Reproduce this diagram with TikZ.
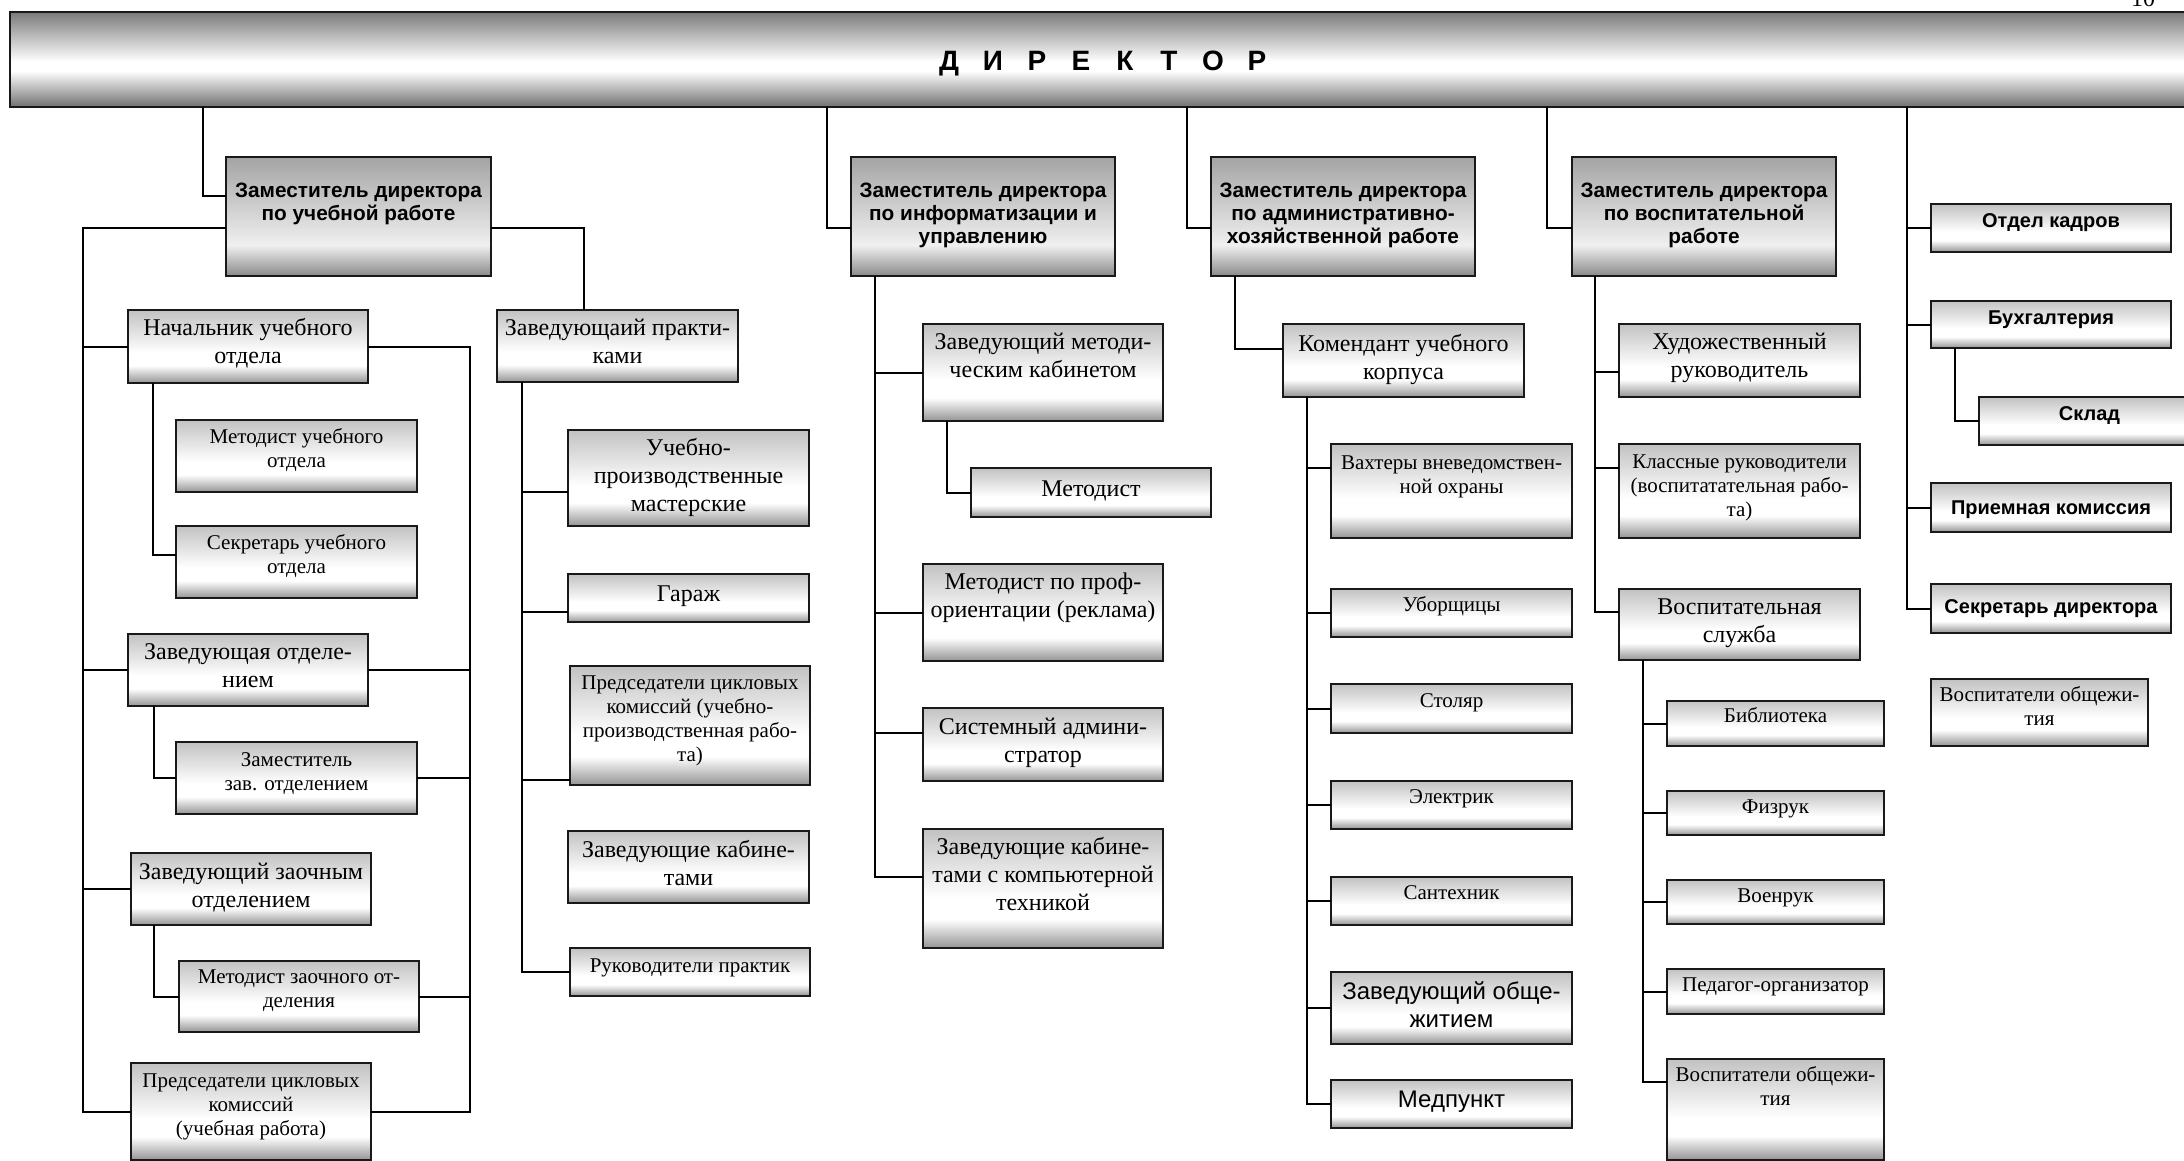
\documentclass[tikz,border=0pt]{standalone}
\usepackage{fontspec}
\setmainfont{Liberation Serif}
\setsansfont{Liberation Sans}
\usetikzlibrary{calc}
\colorlet{sbot}{black!42}
\colorlet{stop}{black!24}
\colorlet{dbot}{black!46}
\colorlet{dtop}{black!36}
\colorlet{rbot}{black!56}
\colorlet{rtop}{black!52}
\colorlet{lite}{white!94!black}
\pgfdeclareverticalshading{bxshade}{100bp}{color(0bp)=(sbot); color(25bp)=(sbot); color(37bp)=(white); color(46bp)=(white); color(75bp)=(stop); color(100bp)=(stop)}
\pgfdeclareverticalshading{dpshade}{100bp}{color(0bp)=(dbot); color(25bp)=(dbot); color(38bp)=(lite); color(75bp)=(dtop); color(100bp)=(dtop)}
\pgfdeclareverticalshading{barshade}{100bp}{color(0bp)=(rbot); color(25bp)=(rbot); color(44bp)=(white); color(49bp)=(white); color(75bp)=(rtop); color(100bp)=(rtop)}
\newcommand\fntL{\rmfamily\fontsize{12}{14}\selectfont}
\newcommand\fntS{\rmfamily\fontsize{10.5}{12}\selectfont}
\newcommand\fntB{\sffamily\bfseries\fontsize{10}{11.5}\selectfont}
\newcommand\fntD{\sffamily\bfseries\fontsize{10.4}{11.5}\selectfont}
\newcommand\fntA{\sffamily\fontsize{12}{14}\selectfont}
\newcommand\dltr[1]{\makebox[22pt][c]{#1}}
\tikzset{
  bx/.style={anchor=north west, draw=black!90, line width=1pt, inner sep=0pt, outer sep=0pt, shade, shading=bxshade},
  dp/.style={bx, shading=dpshade},
  bar/.style={bx, shading=barshade},
  tx/.style={inner sep=0pt, outer sep=0pt, anchor=base},
  ln/.style={line width=1pt, black}
}
% #1 style, #2 name, #3 x, #4 y, #5 w, #6 h, #7 baseline offset, #8 font, #9 text
\newcommand\obox[9][bx]{%
  \node[#1, minimum width=#5*0.5pt, minimum height=#6*0.5pt] (#2) at (#3,#4) {};
  \node[tx] (#2-t) at ($(#2.north)+(0,#7)$) {#8\begin{tabular}[t]{@{}c@{}}#9\end{tabular}};}
\begin{document}
\begin{tikzpicture}[x=0.5pt,y=-0.5pt]
\useasboundingbox (0,0) rectangle (2184,1161);
\clip (0,0) rectangle (2184,1161);
% director
\node[bar, minimum width=2190*0.5pt, minimum height=95*0.5pt] (dir) at (10,12) {};
\node[tx] (dir-t) at (1103,71) {\sffamily\bfseries\fontsize{14}{16}\selectfont\dltr{Д}\dltr{И}\dltr{Р}\dltr{Е}\dltr{К}\dltr{Т}\dltr{О}\dltr{Р}};
\node[tx] (pg) at (2143,7) {\fntL 10};
% deputies
\obox[dp]{dep1}{226}{157}{265}{119}{41}{\fntD}{Заместитель директора\\по учебной работе}
\obox[dp]{dep2}{851}{157}{264}{119}{41}{\fntD}{Заместитель директора\\по информатизации и\\управлению}
\obox[dp]{dep3}{1211}{157}{264}{119}{41}{\fntD}{Заместитель директора\\по административно-\\хозяйственной работе}
\obox[dp]{dep4}{1572}{157}{264}{119}{41}{\fntD}{Заместитель директора\\по воспитательной\\работе}
% column 1
\obox{nach}{128}{310}{240}{73}{25}{\fntL}{Начальник учебного\\отдела}
\obox{metuch}{176}{420}{241}{72}{23}{\fntS}{Методист учебного\\отдела}
\obox{secuch}{176}{526}{241}{72}{23}{\fntS}{Секретарь учебного\\отдела}
\obox{zavotd}{128}{634}{240}{72}{25}{\fntL}{Заведующая отделе-\\нием}
\obox{zamzav}{176}{742}{241}{72}{24}{\fntS}{Заместитель\\зав. отделением}
\obox{zavzaoch}{131}{853}{240}{72}{26}{\fntL}{Заведующий заочным\\отделением}
\obox{metzaoch}{179}{961}{240}{71}{22}{\fntS}{Методист заочного от-\\деления}
\obox{pred1}{131}{1063}{240}{97}{24}{\fntS}{Председатели цикловых\\комиссий\\(учебная работа)}
% column 2
\obox{zp}{497}{310}{241}{72}{25}{\fntL}{Заведующаий практи-\\ками}
\obox{ucheb}{568}{430}{241}{96}{25}{\fntL}{Учебно-\\производственные\\мастерские}
\obox{garazh}{568}{574}{241}{48}{27}{\fntL}{Гараж}
\obox{pred2}{570}{666}{240}{119}{23}{\fntS}{Председатели цикловых\\комиссий (учебно-\\производственная рабо-\\та)}
\obox{zavkab}{568}{831}{241}{72}{26}{\fntL}{Заведующие кабине-\\тами}
\obox{ruk}{570}{948}{240}{48}{24}{\fntS}{Руководители практик}
% column 3
\obox{zmk}{923}{324}{240}{97}{25}{\fntL}{Заведующий методи-\\ческим кабинетом}
\obox{metod}{971}{468}{240}{49}{28}{\fntL}{Методист}
\obox{metprof}{923}{564}{240}{97}{25}{\fntL}{Методист по проф-\\ориентации (реклама)}
\obox{sysadm}{923}{708}{240}{73}{26}{\fntL}{Системный админи-\\стратор}
\obox{zkk}{923}{829}{240}{119}{25}{\fntL}{Заведующие кабине-\\тами с компьютерной\\техникой}
% column 4
\obox{kom}{1283}{324}{241}{73}{27}{\fntL}{Комендант учебного\\корпуса}
\obox{vaht}{1331}{444}{241}{94}{25}{\fntS}{Вахтеры вневедомствен-\\ной охраны}
\obox{ubor}{1331}{589}{241}{48}{22}{\fntS}{Уборщицы}
\obox{stol}{1331}{684}{241}{49}{23}{\fntS}{Столяр}
\obox{elek}{1331}{781}{241}{48}{22}{\fntS}{Электрик}
\obox{sant}{1331}{877}{241}{48}{22}{\fntS}{Сантехник}
\obox{zavob}{1331}{972}{241}{72}{27}{\fntA}{Заведующий обще-\\житием}
\obox{med}{1331}{1080}{241}{48}{27}{\fntA}{Медпункт}
% column 5
\obox{hud}{1619}{324}{241}{73}{25}{\fntL}{Художественный\\руководитель}
\obox{klass}{1619}{444}{241}{94}{24}{\fntS}{Классные руководители\\(воспитатательная рабо-\\та)}
\obox{vosp}{1619}{589}{241}{71}{25}{\fntL}{Воспитательная\\служба}
\obox{bib}{1667}{701}{217}{45}{21}{\fntS}{Библиотека}
\obox{fiz}{1667}{791}{217}{44}{22}{\fntS}{Физрук}
\obox{voen}{1667}{880}{217}{44}{22}{\fntS}{Военрук}
\obox{ped}{1667}{969}{217}{45}{22}{\fntS}{Педагог-организатор}
\obox{vo1}{1667}{1059}{217}{101}{22}{\fntS}{Воспитатели общежи-\\тия}
% column 6
\obox{kadry}{1931}{204}{240}{48}{23}{\fntB}{Отдел кадров}
\obox{buh}{1931}{301}{240}{47}{23}{\fntB}{Бухгалтерия}
\obox{sklad}{1979}{397}{221}{48}{23}{\fntB}{Склад}
\obox{priem}{1931}{483}{240}{49}{31}{\fntB}{Приемная комиссия}
\obox{secr}{1931}{584}{240}{49}{29}{\fntB}{Секретарь директора}
\obox{vo2}{1931}{679}{217}{67}{22}{\fntS}{Воспитатели общежи-\\тия}
% ---------- connectors
% director to deputies
\draw[ln] ([xshift=-11.5pt]dep1.west |- dir.south) |- ([yshift=10.25pt]dep1.west);
\draw[ln] ([xshift=-12pt]dep2.west |- dir.south) |- ([yshift=-5.75pt]dep2.west);
\draw[ln] ([xshift=-12pt]dep3.west |- dir.south) |- ([yshift=-5.75pt]dep3.west);
\draw[ln] ([xshift=-12.5pt]dep4.west |- dir.south) |- ([yshift=-5.75pt]dep4.west);
% right column
\coordinate (tR) at ([xshift=-12pt]kadry.west |- dir.south);
\draw[ln] (tR) |- (secr.west);
\foreach \n in {kadry,buh,priem} \draw[ln] (tR |- \n.west) -- (\n.west);
\draw[ln] ([xshift=12pt]buh.south west) |- (sklad.west);
% deputy 1 left trunk
\coordinate (tL) at ([xshift=-22.5pt]nach.west);
\draw[ln] ([yshift=-5.75pt]dep1.west) -| (tL |- pred1.west) -- (pred1.west);
\foreach \n in {nach,zavotd,zavzaoch} \draw[ln] (tL |- \n.west) -- (\n.west);
% deputy 1 to practice head
\draw[ln] ([yshift=-5.75pt]dep1.east) -| ([xshift=43.5pt]zp.north west);
% right trunk of column 1
\coordinate (tM) at ([xshift=51pt]nach.east);
\draw[ln] (nach.east) -- (tM) -- (tM |- pred1.east) -- (pred1.east);
\foreach \n in {zavotd,zamzav,metzaoch} \draw[ln] (\n.east) -- (\n.east -| tM);
% sub-branches column 1
\coordinate (bmu) at ([yshift=-5.5pt]metuch.west);
\coordinate (bsu) at ([yshift=3.5pt]secuch.west);
\draw[ln] ([xshift=12.5pt]nach.south west) |- (bsu);
\draw[ln] (bmu) -- (bmu -| bsu);
\draw[ln] ([xshift=13pt]zavotd.south west) |- (zamzav.west);
\draw[ln] ([xshift=11.5pt]zavzaoch.south west) |- (metzaoch.west);
% column 2
\coordinate (tP) at ([xshift=12.5pt]zp.south west);
\draw[ln] (tP) |- (ruk.west);
\coordinate (bu) at ([yshift=-7pt]ucheb.west);
\coordinate (bg) at ([yshift=-7pt]garazh.west);
\coordinate (bp) at ([yshift=-27.25pt]pred2.west);
\foreach \c in {bu,bg,bp} \draw[ln] (\c) -- (\c -| tP);
% column 3
\coordinate (tI) at ([xshift=12pt]dep2.south west);
\coordinate (bz) at ([yshift=5.75pt]zkk.west);
\coordinate (bs) at ([yshift=6pt]sysadm.west);
\draw[ln] (tI) |- (bz);
\draw[ln] (bs) -- (bs -| tI);
\foreach \n in {zmk,metprof} \draw[ln] (\n.west) -- (\n.west -| tI);
\draw[ln] ([xshift=12pt]zmk.south west) |- (metod.west);
% column 4
\coordinate (bk) at ([yshift=6pt]kom.west);
\draw[ln] ([xshift=12pt]dep3.south west) |- (bk);
\coordinate (tK) at ([xshift=12pt]kom.south west);
\draw[ln] (tK) |- (med.west);
\coordinate (bv) at ([yshift=11.5pt]vaht.west);
\draw[ln] (bv) -- (bv -| tK);
\foreach \n in {ubor,stol,elek,sant,zavob} \draw[ln] (\n.west) -- (\n.west -| tK);
% column 5
\coordinate (tV) at ([xshift=11.5pt]dep4.south west);
\coordinate (bvs) at ([yshift=6.25pt]vosp.west);
\draw[ln] (tV) |- (bvs);
\coordinate (bh) at ([yshift=-5.75pt]hud.west);
\coordinate (bc) at ([yshift=11.5pt]klass.west);
\foreach \c in {bh,bc} \draw[ln] (\c) -- (\c -| tV);
\coordinate (tS) at ([xshift=12pt]vosp.south west);
\coordinate (bo) at ([yshift=13.75pt]vo1.west);
\draw[ln] (tS) |- (bo);
\foreach \n in {bib,fiz,voen,ped} \draw[ln] (\n.west) -- (\n.west -| tS);
\end{tikzpicture}
\end{document}
